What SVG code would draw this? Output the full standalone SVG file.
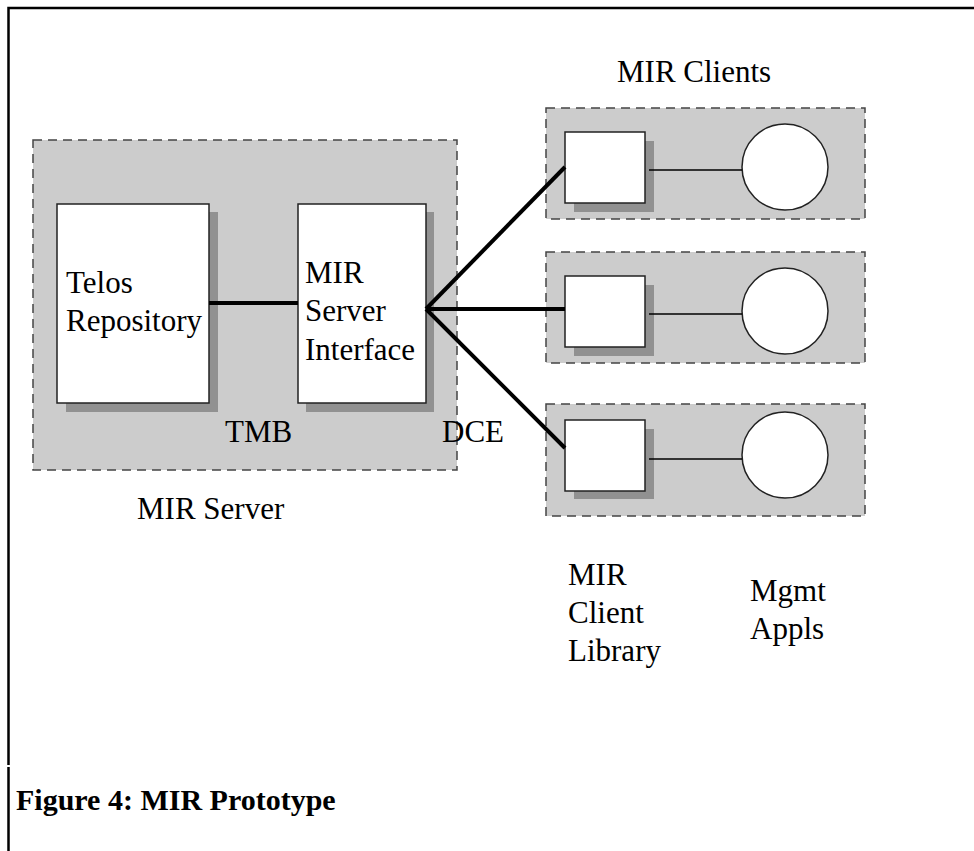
<svg xmlns="http://www.w3.org/2000/svg" width="974" height="851" viewBox="0 0 974 851">
<style>
.grp{fill:#cccccc;stroke:#444;stroke-width:1.5;stroke-dasharray:9 6}
.box{fill:#fff;stroke:#222;stroke-width:1.5}
.sh{fill:#919191}
.t{font-family:"Liberation Serif","Times New Roman",serif;font-size:31px;fill:#000}
.cap{font-family:"Liberation Serif","Times New Roman",serif;font-size:30px;font-weight:bold;fill:#000}
.thick{stroke:#000;stroke-width:4;fill:none}
.thin{stroke:#000;stroke-width:1.5;fill:none}
</style>
<rect width="974" height="851" fill="#fff"/>
<g id="frame">
<path d="M8.5 851 V767 M8.5 765 V8 H974" stroke="#000" stroke-width="2.5" fill="none"/>
</g>
<g id="mir-server">
<rect class="grp" x="33" y="140" width="424" height="330"/>
<text class="t" x="137" y="519">MIR Server</text>
</g>
<g id="telos-repository">
<rect class="sh" x="66" y="212" width="152" height="200"/>
<rect class="box" x="57" y="204" width="152" height="199"/>
<text class="t" x="66" y="293">Telos</text>
<text class="t" x="66" y="331">Repository</text>
</g>
<g id="mir-server-interface">
<rect class="sh" x="306" y="212" width="128" height="200"/>
<rect class="box" x="298" y="204" width="128" height="199"/>
<text class="t" x="305" y="283">MIR</text>
<text class="t" x="305" y="321">Server</text>
<text class="t" x="305" y="360">Interface</text>
</g>
<g id="labels">
<text class="t" x="225" y="442">TMB</text>
<text class="t" x="442" y="442">DCE</text>
<text class="t" x="617" y="82">MIR Clients</text>
<text class="t" x="568" y="585">MIR</text>
<text class="t" x="568" y="623">Client</text>
<text class="t" x="568" y="661">Library</text>
<text class="t" x="750" y="601">Mgmt</text>
<text class="t" x="750" y="639">Appls</text>
<text class="cap" x="16" y="810">Figure 4: MIR Prototype</text>
</g>
<g id="client-1">
<rect class="grp" x="546" y="108" width="319" height="111"/>
<rect class="sh" x="574" y="141" width="80" height="71"/>
<rect class="box" x="565" y="132" width="80" height="71"/>
<circle class="box" cx="785" cy="167" r="43"/>
</g>
<g id="client-2">
<rect class="grp" x="546" y="252" width="319" height="111"/>
<rect class="sh" x="574" y="285" width="80" height="71"/>
<rect class="box" x="565" y="276" width="80" height="71"/>
<circle class="box" cx="785" cy="311" r="43"/>
</g>
<g id="client-3">
<rect class="grp" x="546" y="404" width="319" height="112"/>
<rect class="sh" x="574" y="429" width="80" height="70"/>
<rect class="box" x="565" y="420" width="80" height="71"/>
<circle class="box" cx="785" cy="455" r="43"/>
</g>
<g id="connectors">
<line class="thick" x1="209" y1="303" x2="298" y2="303"/>
<line class="thick" x1="426" y1="309" x2="565" y2="167"/>
<line class="thick" x1="426" y1="309" x2="565" y2="309"/>
<line class="thick" x1="426" y1="309" x2="565" y2="448"/>
<line class="thin" x1="649" y1="170" x2="742" y2="170"/>
<line class="thin" x1="649" y1="314" x2="742" y2="314"/>
<line class="thin" x1="649" y1="459" x2="742" y2="459"/>
</g>
</svg>
